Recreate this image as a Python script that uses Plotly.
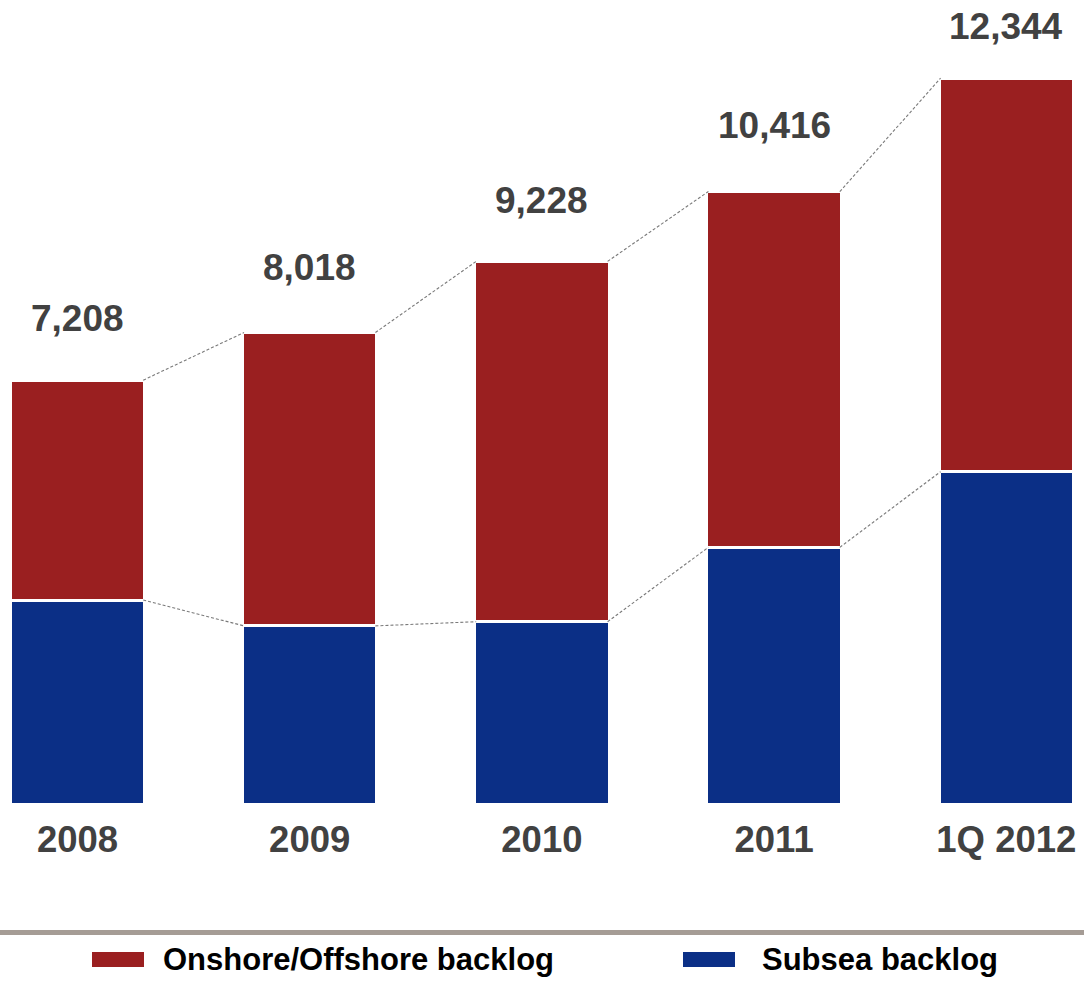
import plotly.graph_objects as go

# Backlog by period (EUR millions)
periods = ["2008", "2009", "2010", "2011", "1Q 2012"]
subsea = [3469, 3029, 3100, 4365, 5651]
onshore_offshore = [3739, 4989, 6128, 6051, 6693]
totals = [s + o for s, o in zip(subsea, onshore_offshore)]

RED = "#9a1f20"
BLUE = "#0b2f86"
LABEL_GREY = "#414141"
DASH_GREY = "#7a7a7a"
FONT = "Liberation Sans, Arial, sans-serif"

W, H = 1084, 981
PLOT_BOTTOM = 804          # pixel row of the bar baseline
X_RANGE = [-0.3338, 4.3346]
Y_MAX = 13673

x = list(range(len(periods)))
BAR_W = 0.579              # includes the white outline
EDGE = 0.283               # half of the visible bar width

fig = go.Figure()
fig.add_bar(
    x=x, y=subsea, width=BAR_W, name="Subsea backlog",
    marker=dict(color=BLUE, line=dict(color="white", width=3)),
    hoverinfo="skip",
)
fig.add_bar(
    x=x, y=onshore_offshore, width=BAR_W, name="Onshore/Offshore backlog",
    marker=dict(color=RED, line=dict(color="white", width=3)),
    hoverinfo="skip",
)

# dashed connectors between neighbouring bars (totals and subsea level)
for level in (totals, subsea):
    xs, ys = [], []
    for i in range(len(x) - 1):
        xs += [x[i] + EDGE, x[i + 1] - EDGE, None]
        ys += [level[i], level[i + 1], None]
    fig.add_scatter(
        x=xs, y=ys, mode="lines", showlegend=False, hoverinfo="skip",
        line=dict(color=DASH_GREY, width=1.1, dash="3px,2px"),
    )

# total labels above each bar
label_lift = [62, 65, 61, 66, 52]
for xi, tot, lift in zip(x, totals, label_lift):
    fig.add_annotation(
        x=xi, y=tot, yshift=lift, text=f"{tot:,}", showarrow=False,
        yanchor="middle", xanchor="center",
        font=dict(family=FONT, size=37, color=LABEL_GREY, weight="bold"),
    )


def px_x(p):
    return p / W


def px_y(p):
    return (PLOT_BOTTOM - p) / PLOT_BOTTOM


# separator rule above the legend
fig.add_shape(
    type="rect", xref="paper", yref="paper",
    x0=0, x1=1, y0=px_y(935), y1=px_y(930),
    fillcolor="#a59c95", line=dict(width=0),
)

# legend
legend_items = [
    ("Onshore/Offshore backlog", RED, 92, 144, 161),
    ("Subsea backlog", BLUE, 683, 735, 760),
]
for text, color, sx0, sx1, tx in legend_items:
    fig.add_shape(
        type="rect", xref="paper", yref="paper",
        x0=px_x(sx0), x1=px_x(sx1), y0=px_y(967), y1=px_y(952),
        fillcolor=color, line=dict(width=0),
    )
    fig.add_annotation(
        xref="paper", yref="paper", x=px_x(tx), y=px_y(960),
        text=text, showarrow=False, xanchor="left", yanchor="middle",
        font=dict(family=FONT, size=31, color="#000000", weight="bold"),
    )

fig.update_layout(
    width=W, height=H,
    margin=dict(l=0, r=0, t=0, b=H - PLOT_BOTTOM, pad=0),
    barmode="stack",
    showlegend=False,
    plot_bgcolor="white", paper_bgcolor="white",
    xaxis=dict(
        range=X_RANGE, tickmode="array", tickvals=x, ticktext=periods,
        showgrid=False, zeroline=False, showline=False, ticks="",
        tickfont=dict(family=FONT, size=36.5, color=LABEL_GREY, weight="bold"),
        ticklabelstandoff=10,
    ),
    yaxis=dict(range=[0, Y_MAX], visible=False, showgrid=False, zeroline=False),
)

fig.write_html("out.html")
